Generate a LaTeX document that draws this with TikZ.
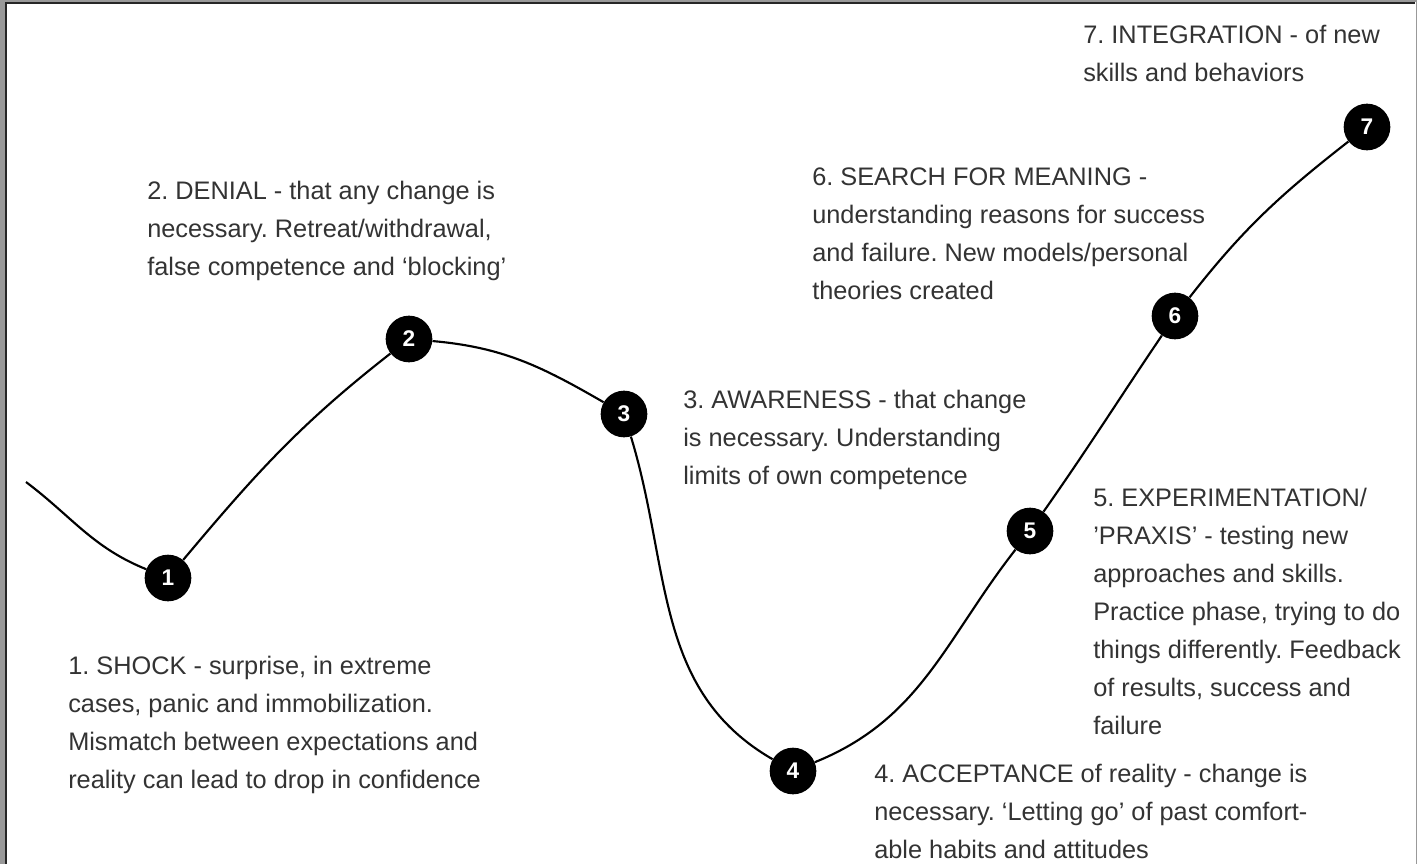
\documentclass[tikz,border=0pt]{standalone}
\usepackage{fontspec}
\setmainfont{Liberation Sans}
\frenchspacing
\definecolor{textgray}{HTML}{333333}
\definecolor{framegray}{HTML}{999999}

\tikzset{stage/.style={circle, fill=black, minimum size=35pt, inner sep=0pt, text=white, font=\fontsize{17pt}{18pt}\selectfont\bfseries}}
\tikzset{caption/.style={anchor=north west, align=left, inner sep=0pt, text=textgray, font=\fontsize{19pt}{28.5pt}\selectfont}}

\begin{document}
\begin{tikzpicture}[x=0.75pt,y=0.75pt]
		\useasboundingbox (0,0) rectangle (1417,-864);
		\fill[white] (0,0) rectangle (1417,-864);
		% frame
		\fill[framegray] (0,0) rectangle (1417,-2);
		\fill[framegray] (0,0) rectangle (5,-864);
		\draw[line width=1.2pt, black!85] (5.8,-864) -- (5.8,-2.8) -- (1415,-2.8);
		\draw[framegray, line width=0.8pt] (1416.3,-2) -- (1416.3,-864);

		\node[stage] (s1) at (168,-578) {1};
		\node[stage] (s2) at (409,-339) {2};
		\node[stage] (s3) at (624,-414) {3};
		\node[stage] (s4) at (793,-771) {4};
		\node[stage] (s5) at (1030,-531) {5};
		\node[stage] (s6) at (1175,-316) {6};
		\node[stage] (s7) at (1367,-127) {7};
		\coordinate (start) at (26,-482);

		\draw[line width=1.6pt] (start) to[out=-37,in=158] (s1)
			to[out=50,in=-142] (s2)
			to[out=-5,in=150] (s3)
			to[out=-73,in=150] (s4)
			to[out=22,in=-128] (s5)
			to[out=55,in=-124] (s6)
			to[out=52,in=-142] (s7);

		\node[caption] (t1) at (68,-656) {1. SHOCK - surprise, in extreme\\cases, panic and immobilization.\\Mismatch between expectations and\\reality can lead to drop in confidence};
		\node[caption] (t2) at (147,-181) {2. DENIAL - that any change is\\necessary. Retreat/withdrawal,\\false competence and ‘blocking’};
		\node[caption] (t3) at (683,-390) {3. AWARENESS - that change\\is necessary. Understanding\\limits of own competence};
		\node[caption] (t4) at (874,-764) {4. ACCEPTANCE of reality - change is\\necessary. ‘Letting go’ of past comfort-\\able habits and attitudes};
		\node[caption] (t5) at (1093,-488) {5. EXPERIMENTATION/\\’PRAXIS’ - testing new\\approaches and skills.\\Practice phase, trying to do\\things differently. Feedback\\of results, success and\\failure};
		\node[caption] (t6) at (812,-168) {6. SEARCH FOR MEANING -\\understanding reasons for success\\and failure. New models/personal\\theories created};
		\node[caption] (t7) at (1083,-25) {7. INTEGRATION - of new\\skills and behaviors};
	\end{tikzpicture}
\end{document}
